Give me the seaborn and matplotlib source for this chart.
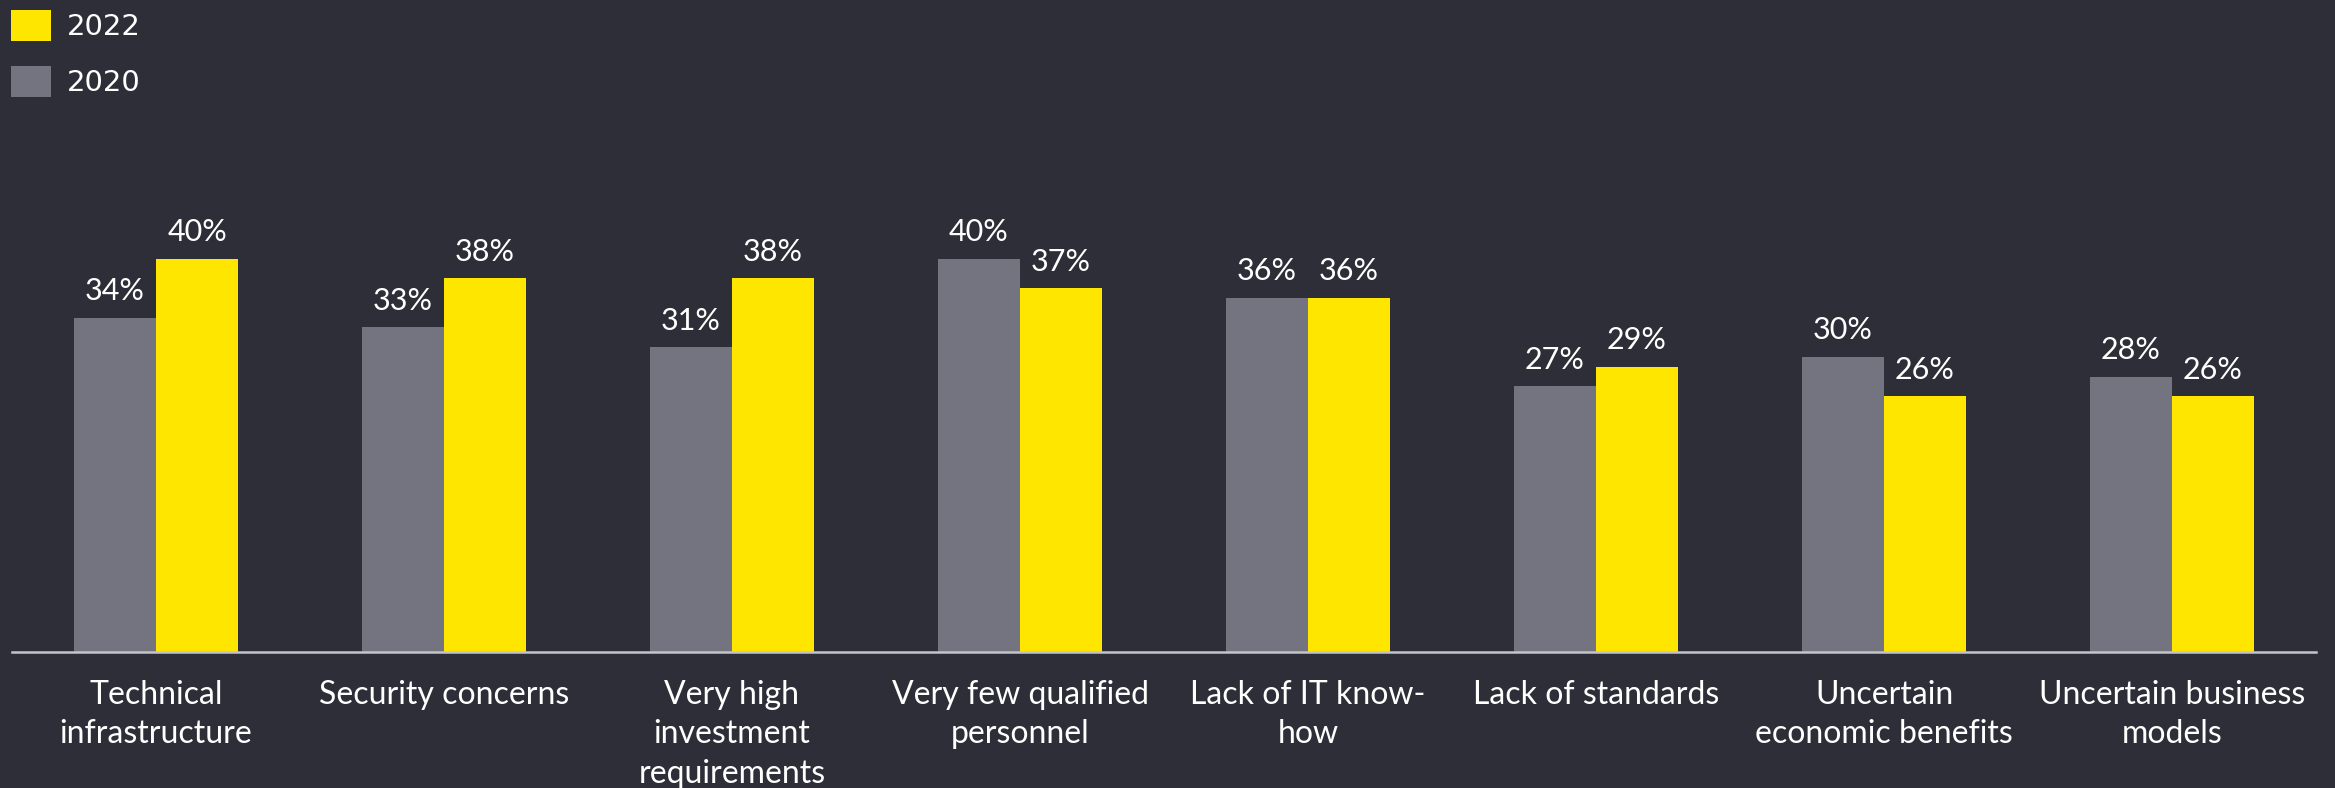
import pandas as pd
import matplotlib.pyplot as plt
import seaborn as sns
from matplotlib.patches import Patch

# ---- data ----
categories = [
    "Technical\ninfrastructure",
    "Security concerns",
    "Very high\ninvestment\nrequirements",
    "Very few qualified\npersonnel",
    "Lack of IT know-\nhow",
    "Lack of standards",
    "Uncertain\neconomic benefits",
    "Uncertain business\nmodels",
]
values_2020 = [34, 33, 31, 40, 36, 27, 30, 28]
values_2022 = [40, 38, 38, 37, 36, 29, 26, 26]
years = ["2020", "2022"]

BG = "#2E2E38"
GREY = "#747480"
YELLOW = "#FFE600"
AXIS = "#C4C4CD"

sns.set_theme(style="white")
plt.rcParams["font.family"] = ["Lato", "DejaVu Sans"]

df = pd.DataFrame({
    "category": categories * 2,
    "year": [years[0]] * len(categories) + [years[1]] * len(categories),
    "value": values_2020 + values_2022,
})

fig = plt.figure(figsize=(23.35, 7.88), dpi=100, facecolor=BG)
ax = fig.add_axes([12 / 2335, 136 / 788, 2304 / 2335, 652 / 788])
ax.set_facecolor(BG)

sns.barplot(data=df, x="category", y="value", hue="year", order=categories,
            hue_order=years, palette={"2020": GREY, "2022": YELLOW},
            width=0.57, gap=0, saturation=1, linewidth=0, legend=False, ax=ax)

for container in ax.containers:
    ax.bar_label(container, labels=[f"{v:.0f}%" for v in container.datavalues],
                 padding=9, color="white", fontsize=22)

ax.set_xlim(-0.5, len(categories) - 0.5)
ax.set_ylim(0, 66.3)
ax.set_xlabel("")
ax.set_ylabel("")
ax.set_yticks([])
ax.tick_params(axis="x", length=0, pad=20, labelsize=23, colors="white")
for lbl in ax.get_xticklabels():
    lbl.set_linespacing(1.4)
for side in ["top", "left", "right"]:
    ax.spines[side].set_visible(False)
ax.spines["bottom"].set_color(AXIS)
ax.spines["bottom"].set_linewidth(1.8)

handles = [Patch(facecolor=YELLOW, edgecolor="none", label="2022"),
           Patch(facecolor=GREY, edgecolor="none", label="2020")]
fig.legend(handles=handles, loc="upper left", bbox_to_anchor=(11 / 2335, 1 - 10 / 788),
           frameon=False, handlelength=1.38, handleheight=1.25,
           handletextpad=0.55, labelspacing=0.85, borderpad=0, borderaxespad=0,
           labelcolor="white", prop={"family": ["DejaVu Sans"], "size": 21})

fig.savefig("out.png", dpi=100, facecolor=BG)
